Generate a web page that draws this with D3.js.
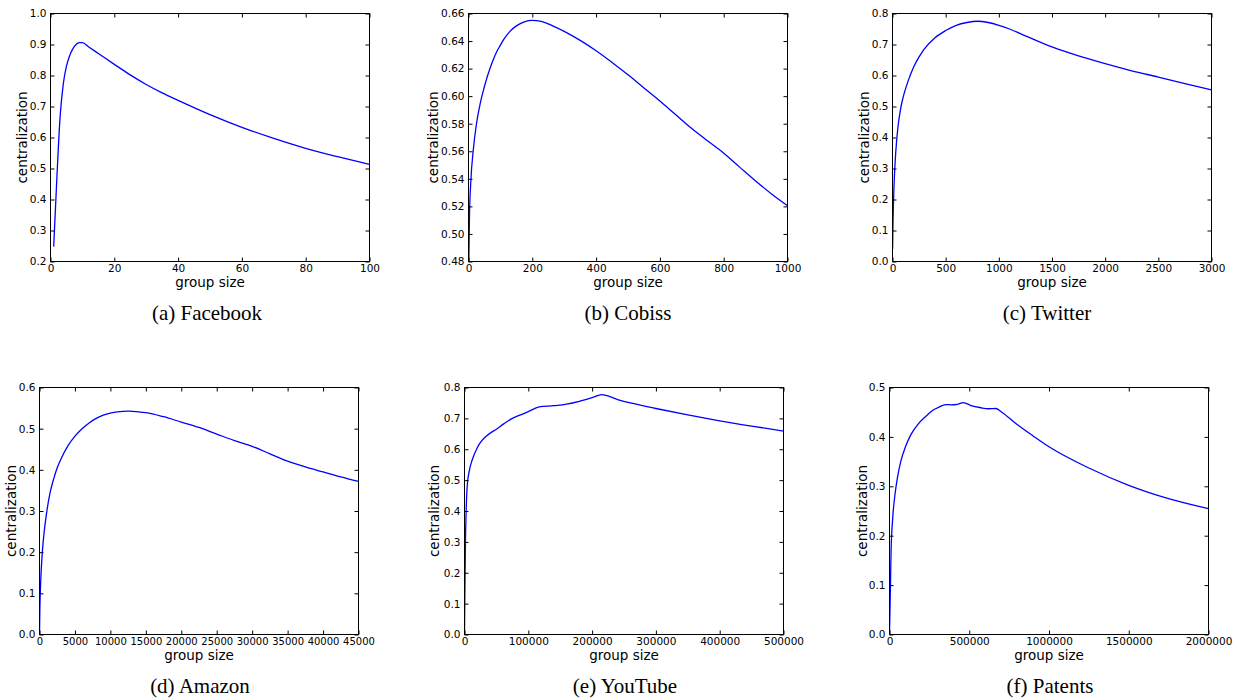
<!DOCTYPE html>
<html>
<head>
<meta charset="utf-8">
<script src="https://cdn.jsdelivr.net/npm/d3@7"></script>
<style>
  body { margin: 0; background: #fff; }
  svg { display: block; }
  .tick text { font-family: "DejaVu Sans", sans-serif; fill: #000; }
</style>
</head>
<body>
<svg id="chart" width="1237" height="700"></svg>
<script>
// values (group size -> centralization)
var facebookX = [1, 2, 3, 4, 5, 6, 7, 8, 9, 10, 12, 15, 20, 25, 30, 35, 40, 50, 60, 70, 80, 90, 100];
var facebookY = [0.248, 0.47, 0.665, 0.772, 0.83, 0.864, 0.886, 0.9, 0.906, 0.906, 0.892, 0.871, 0.836, 0.802, 0.771, 0.744, 0.72, 0.674, 0.633, 0.597, 0.565, 0.538, 0.513];

var cobissX = [1, 3, 7, 15, 25, 37, 50, 60, 75, 90, 100, 110, 130, 150, 175, 200, 225, 250, 300, 350, 400, 450, 500, 550, 600, 620, 650, 700, 750, 790, 850, 900, 950, 1000];
var cobissY = [0.48, 0.512, 0.537, 0.561, 0.58, 0.595, 0.607, 0.615, 0.625, 0.633, 0.637, 0.641, 0.647, 0.651, 0.654, 0.655, 0.6545, 0.6525, 0.647, 0.6405, 0.633, 0.6245, 0.6155, 0.606, 0.5965, 0.5925, 0.5865, 0.5765, 0.5675, 0.5605, 0.5485, 0.5385, 0.529, 0.5205];

var twitterX = [1, 5, 10, 20, 30, 50, 75, 100, 150, 200, 250, 300, 400, 500, 600, 700, 800, 900, 1000, 1100, 1250, 1500, 1750, 2000, 2250, 2500, 2750, 3000];
var twitterY = [0.04, 0.13, 0.2, 0.29, 0.35, 0.43, 0.49, 0.53, 0.585, 0.628, 0.66, 0.686, 0.722, 0.745, 0.762, 0.771, 0.775, 0.771, 0.762, 0.75, 0.728, 0.692, 0.663, 0.638, 0.615, 0.595, 0.574, 0.554];

var amazonX = [1, 50, 150, 400, 700, 1000, 1500, 2000, 2500, 3000, 4000, 5000, 6000, 7000, 8000, 9000, 10000, 11000, 12500, 14000, 15000, 17500, 20000, 22500, 25000, 27500, 30000, 32500, 35000, 37500, 40000, 42500, 45000];
var amazonY = [0.0, 0.06, 0.12, 0.2, 0.255, 0.295, 0.345, 0.378, 0.405, 0.425, 0.458, 0.482, 0.5, 0.514, 0.525, 0.533, 0.538, 0.541, 0.5425, 0.541, 0.539, 0.529, 0.516, 0.503, 0.487, 0.471, 0.457, 0.439, 0.421, 0.407, 0.395, 0.383, 0.372];

var youtubeX = [1, 500, 1500, 2600, 4200, 8000, 12000, 20000, 25000, 35000, 50000, 62000, 75000, 90000, 100000, 117000, 140000, 160000, 180000, 200000, 215000, 240000, 260000, 300000, 350000, 400000, 450000, 500000];
var youtubeY = [0.0, 0.12, 0.3, 0.4, 0.48, 0.535, 0.565, 0.605, 0.622, 0.644, 0.665, 0.683, 0.7, 0.713, 0.722, 0.737, 0.741, 0.746, 0.755, 0.767, 0.777, 0.761, 0.75, 0.732, 0.711, 0.692, 0.675, 0.659];

var patentsX = [1, 6000, 10000, 20000, 35000, 50000, 72000, 100000, 135000, 177000, 229000, 277000, 302000, 354000, 385000, 427000, 463000, 510000, 573000, 620000, 668000, 700000, 800000, 900000, 1000000, 1250000, 1500000, 1750000, 2000000];
var patentsY = [0.0, 0.1, 0.17, 0.235, 0.285, 0.318, 0.352, 0.38, 0.405, 0.425, 0.442, 0.455, 0.459, 0.4655, 0.465, 0.466, 0.4695, 0.4635, 0.459, 0.457, 0.4575, 0.451, 0.425, 0.402, 0.38, 0.337, 0.302, 0.275, 0.2547];

// tick values
var facebookXTicks = [0, 20, 40, 60, 80, 100];
var facebookYTicks = [0.2, 0.3, 0.4, 0.5, 0.6, 0.7, 0.8, 0.9, 1.0];
var cobissXTicks = [0, 200, 400, 600, 800, 1000];
var cobissYTicks = [0.48, 0.50, 0.52, 0.54, 0.56, 0.58, 0.60, 0.62, 0.64, 0.66];
var twitterXTicks = [0, 500, 1000, 1500, 2000, 2500, 3000];
var twitterYTicks = [0.0, 0.1, 0.2, 0.3, 0.4, 0.5, 0.6, 0.7, 0.8];
var amazonXTicks = [0, 5000, 10000, 15000, 20000, 25000, 30000, 35000, 40000, 45000];
var amazonYTicks = [0.0, 0.1, 0.2, 0.3, 0.4, 0.5, 0.6];
var youtubeXTicks = [0, 100000, 200000, 300000, 400000, 500000];
var youtubeYTicks = [0.0, 0.1, 0.2, 0.3, 0.4, 0.5, 0.6, 0.7, 0.8];
var patentsXTicks = [0, 500000, 1000000, 1500000, 2000000];
var patentsYTicks = [0.0, 0.1, 0.2, 0.3, 0.4, 0.5];

var captions = ["(a) Facebook", "(b) Cobiss", "(c) Twitter", "(d) Amazon", "(e) YouTube", "(f) Patents"];

var panels = [
    {xs: facebookX, ys: facebookY, xt: facebookXTicks, yt: facebookYTicks, yf: ".1f", left: 50, top: 13, h: 248, yOff: 24, capDx: -3, xFont: 10.5},
    {xs: cobissX, ys: cobissY, xt: cobissXTicks, yt: cobissYTicks, yf: ".2f", left: 468, top: 13, h: 248, yOff: 31, capDx: 0, xFont: 10.5},
    {xs: twitterX, ys: twitterY, xt: twitterXTicks, yt: twitterYTicks, yf: ".1f", left: 892, top: 13, h: 248, yOff: 24, capDx: -5, xFont: 10.5},
    {xs: amazonX, ys: amazonY, xt: amazonXTicks, yt: amazonYTicks, yf: ".1f", left: 39, top: 387, h: 247, yOff: 24, capDx: 1, xFont: 10},
    {xs: youtubeX, ys: youtubeY, xt: youtubeXTicks, yt: youtubeYTicks, yf: ".1f", left: 464, top: 387, h: 247, yOff: 26, capDx: 1, xFont: 10.5},
    {xs: patentsX, ys: patentsY, xt: patentsXTicks, yt: patentsYTicks, yf: ".1f", left: 889, top: 387, h: 247, yOff: 23, capDx: 1, xFont: 10.5}
];

var svg = d3.select('#chart');
var W = 319;

panels.forEach(function(p, i) {
    var h = p.h;
    var g = svg.append("g")
        .attr("transform", "translate(" + (p.left + 0.5) + "," + (p.top + 0.5) + ")");

    var x = d3.scaleLinear().domain([p.xt[0], p.xt[p.xt.length - 1]]).range([0, W]);
    var y = d3.scaleLinear().domain([p.yt[0], p.yt[p.yt.length - 1]]).range([h, 0]);

    g.append("clipPath").attr("id", "clip" + i)
        .append("rect").attr("width", W).attr("height", h);

    var pts = p.xs.map(function(d, j) { return [d, p.ys[j]]; });
    var line = d3.line()
        .x(function(d) { return x(d[0]); })
        .y(function(d) { return y(d[1]); })
        .curve(d3.curveMonotoneX);

    g.append("path")
        .datum(pts)
        .attr("clip-path", "url(#clip" + i + ")")
        .attr("d", line)
        .attr("fill", "none")
        .attr("stroke", "#0000ff")
        .attr("stroke-width", 1.3);

    // axes, ticks pointing inward on all four sides
    var bottom = g.append("g").attr("transform", "translate(0," + h + ")")
        .call(d3.axisBottom(x).tickValues(p.xt).tickFormat(d3.format("d")).tickSizeInner(-4).tickSizeOuter(0).tickPadding(3));
    bottom.selectAll("text").attr("font-size", p.xFont + "px");

    var left = g.append("g")
        .call(d3.axisLeft(y).tickValues(p.yt).tickFormat(d3.format(p.yf)).tickSizeInner(-4).tickSizeOuter(0).tickPadding(4));
    left.selectAll("text").attr("font-size", "10.5px");

    g.append("g")
        .call(d3.axisTop(x).tickValues(p.xt).tickFormat("").tickSizeInner(-4).tickSizeOuter(0));
    g.append("g").attr("transform", "translate(" + W + ",0)")
        .call(d3.axisRight(y).tickValues(p.yt).tickFormat("").tickSizeInner(-4).tickSizeOuter(0));

    g.selectAll(".domain").remove();
    g.selectAll(".tick line").attr("stroke", "#000");

    g.append("rect")
        .attr("width", W)
        .attr("height", h)
        .attr("fill", "none")
        .attr("stroke", "#000")
        .attr("stroke-width", 1);

    g.append("text")
        .text("group size")
        .attr("x", W / 2)
        .attr("y", h + 25)
        .attr("text-anchor", "middle")
        .attr("font-family", "DejaVu Sans")
        .attr("font-size", "13.5px");

    g.append("text")
        .text("centralization")
        .attr("transform", "translate(" + (-p.yOff) + "," + (h / 2) + ") rotate(-90)")
        .attr("text-anchor", "middle")
        .attr("font-family", "DejaVu Sans")
        .attr("font-size", "13.5px");

    g.append("text")
        .text(captions[i])
        .attr("x", W / 2 + p.capDx)
        .attr("y", h + 58.5)
        .attr("text-anchor", "middle")
        .attr("font-family", "Liberation Serif")
        .attr("font-size", "21px");
});
</script>
</body>
</html>
